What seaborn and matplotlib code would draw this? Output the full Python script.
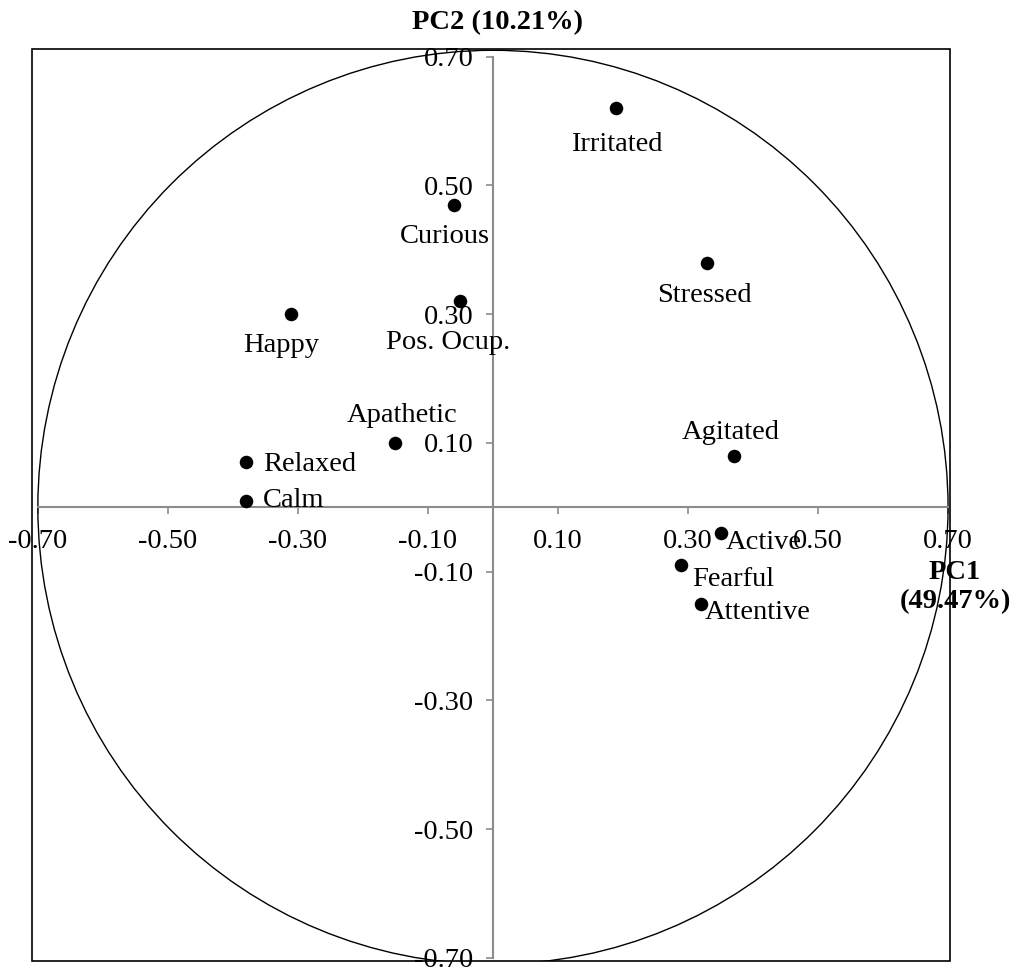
import matplotlib
matplotlib.use('Agg')
import matplotlib.pyplot as plt
from matplotlib.patches import Ellipse, Rectangle
from matplotlib.ticker import FixedLocator, StrMethodFormatter
import seaborn as sns
import pandas as pd

# ── Data ──────────────────────────────────────────────────────────────────────
variables = ['Irritated', 'Curious', 'Stressed', 'Pos. Ocup.', 'Happy', 'Apathetic',
             'Relaxed', 'Calm', 'Agitated', 'Active', 'Fearful', 'Attentive']
pc1 = [0.19, -0.06, 0.33, -0.05, -0.31, -0.15, -0.38, -0.38, 0.37, 0.35, 0.29, 0.32]
pc2 = [0.62, 0.47, 0.38, 0.32, 0.30, 0.10, 0.07, 0.01, 0.08, -0.04, -0.09, -0.15]
ticks = [-0.70, -0.50, -0.30, -0.10, 0.10, 0.30, 0.50, 0.70]
pc1_title = 'PC1\n(49.47%)'
pc2_title = 'PC2 (10.21%)'

df = pd.DataFrame({'var': variables, 'pc1': pc1, 'pc2': pc2})

# label placement (pixel offsets from the point, alignment)
label_pos = {
    'Irritated':  (0, -36, 'center', 'center'),
    'Curious':    (-9, -32, 'center', 'center'),
    'Stressed':   (-3, -33, 'center', 'center'),
    'Pos. Ocup.': (-12, -41, 'center', 'center'),
    'Happy':      (-10, -31, 'center', 'center'),
    'Apathetic':  (7, 27, 'center', 'center'),
    'Relaxed':    (17, -2, 'left', 'center'),
    'Calm':       (17, 0, 'left', 'center'),
    'Agitated':   (-3, 23, 'center', 'center'),
    'Active':     (5, -10, 'left', 'center'),
    'Fearful':    (11, -14, 'left', 'center'),
    'Attentive':  (4, -9, 'left', 'center'),
}

# ── Style ─────────────────────────────────────────────────────────────────────
sns.set_style('white')
plt.rcParams['font.family'] = ['Liberation Serif', 'DejaVu Serif']
plt.rcParams['axes.unicode_minus'] = False
plt.rcParams['text.color'] = 'black'
FS = 20.5
GRAY = '#8C8C8C'

fig = plt.figure(figsize=(10.14, 9.68), dpi=100)
ax = fig.add_axes([32 / 1014, 7 / 968, (950 - 32) / 1014, (961 - 49) / 968])

sns.scatterplot(data=df, x='pc1', y='pc2', ax=ax, color='black', s=95,
                edgecolor='black', linewidth=0, zorder=5, legend=False)

for _, r in df.iterrows():
    dx, dy, ha, va = label_pos[r['var']]
    ax.annotate(r['var'], (r['pc1'], r['pc2']), xytext=(dx, dy),
                textcoords='offset pixels', ha=ha, va=va, fontsize=FS,
                color='black', zorder=6)

# correlation circle
ax.add_patch(Ellipse((0, 0), 1.40, 1.42, fill=False, edgecolor='black', linewidth=1.0))

ax.set_xlim(-0.709, 0.703)
ax.set_ylim(-0.705, 0.712)

# axes through the origin
for side in ['top', 'right']:
    ax.spines[side].set_visible(False)
for side in ['left', 'bottom']:
    ax.spines[side].set_position(('data', 0))
    ax.spines[side].set_color(GRAY)
    ax.spines[side].set_linewidth(1.5)
    ax.spines[side].set_bounds(ticks[0], ticks[-1])

ax.xaxis.set_major_locator(FixedLocator(ticks))
ax.yaxis.set_major_locator(FixedLocator(ticks))
ax.xaxis.set_major_formatter(StrMethodFormatter('{x:.2f}'))
ax.yaxis.set_major_formatter(StrMethodFormatter('{x:.2f}'))
ax.tick_params(axis='both', which='major', direction='out', length=5, width=1.2,
               color=GRAY, labelsize=FS, labelcolor='black', pad=9,
               bottom=True, left=True)
ax.tick_params(axis='x', pad=11)
ax.set_xlabel('')
ax.set_ylabel('')

# outer frame
ax.add_patch(Rectangle((0, 0), 1, 1, transform=ax.transAxes, fill=False,
                       edgecolor='black', linewidth=1.2, clip_on=False, zorder=10))

fig.text(497 / 1014, 1 - 23 / 968, pc2_title, ha='center', va='center',
         fontsize=FS, fontweight='bold', color='black')
fig.text(955 / 1014, 1 - 587 / 968, pc1_title, ha='center', va='center',
         fontsize=FS, fontweight='bold', linespacing=1.2, color='black')

fig.savefig('out.png', dpi=100)
